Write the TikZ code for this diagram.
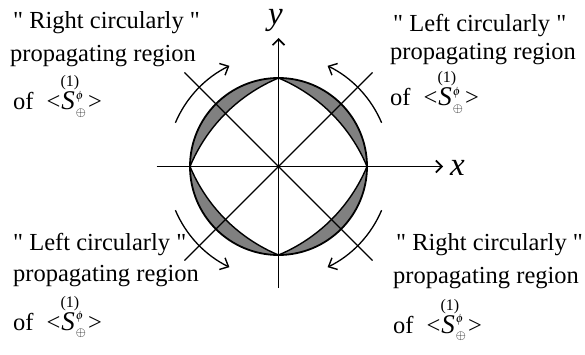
\documentclass[tikz,border=0pt]{standalone}
\usepackage{amsmath}
\usepackage{mathptmx}
\usepackage{fontspec}
\setmainfont{Liberation Serif}
\usetikzlibrary{arrows.meta}
\tikzset{
  lbl/.style={anchor=base west, inner sep=0pt, font=\fontsize{24.5}{28}\selectfont},
  axislbl/.style={anchor=base west, inner sep=0pt, font=\fontsize{33}{33}\selectfont\itshape},
  axis/.style={line width=1.6pt, -{Straight Barb[length=6pt,width=12pt,line width=1.6pt]}},
  diag/.style={line width=1.1pt},
  rot/.style={line width=1.3pt, -{Straight Barb[length=7pt,width=13pt,line width=1.4pt]}},
  crescent/.style={fill=gray},
}
\newcommand{\qq}{\textquotedbl}
\newcommand{\sterm}{of\hspace{13pt}<\kern1pt\makebox[0pt][l]{\makebox[17pt][c]{\raisebox{23pt}{\fontsize{16}{16}\selectfont(1)}}}{\fontsize{27}{28}\selectfont\textit{S}}\kern1pt\makebox[0pt][l]{\raisebox{11pt}{\fontsize{12}{12}\selectfont$\phi$}}\raisebox{-6pt}{\fontsize{13}{13}\selectfont$\oplus$}\kern2pt>}
\begin{document}
\begin{tikzpicture}[x=1pt,y=1pt]
\useasboundingbox (0,0) rectangle (585,354);
\coordinate (O) at (278.5,187.5);
% crescents
\foreach \r in {0,90,180,270}{
  \begin{scope}[shift={(O)}, rotate=\r]
    \fill[crescent] (88.5,0) arc[start angle=0,end angle=90,radius=88.5]
      arc[start angle=67.36,end angle=22.64,radius=164.5] -- cycle;
    \draw[line width=1.4pt] (88.5,0) arc[start angle=22.64,end angle=67.36,radius=164.5];
  \end{scope}
}
\draw[line width=1.8pt] (O) circle[radius=88.5];
% diagonals
\coordinate (d1) at ([shift={(45:133)}]O);
\coordinate (d2) at ([shift={(135:133)}]O);
\coordinate (d3) at ([shift={(225:133)}]O);
\coordinate (d4) at ([shift={(315:133)}]O);
\draw[diag] (d1) -- (d3);
\draw[diag] (d2) -- (d4);
% axes
\coordinate (xs) at (156.7,187.5);
\coordinate (xe) at (443,187.5);
\coordinate (ys) at (278.5,66);
\coordinate (ye) at (278.5,316);
\draw[axis] (xs) -- (xe);
\draw[axis] (ys) -- (ye);
\node[axislbl] (xl) at (450,179) {x};
\node[axislbl] (yl) at (268,329) {y};
% rotation arrows
\draw[rot] ([shift={(157:112)}]O) arc[start angle=157,end angle=116,radius=112];
\draw[rot] ([shift={(23:112)}]O) arc[start angle=23,end angle=64,radius=112];
\draw[rot] ([shift={(203:112)}]O) arc[start angle=203,end angle=244,radius=112];
\draw[rot] ([shift={(-23:112)}]O) arc[start angle=-23,end angle=-64,radius=112];
% texts
\node[lbl] (tl1) at (13,325) {\qq{} Right circularly \qq};
\node[lbl] (tl2) at (10,292) {propagating region};
\node[lbl] (tl3) at (13,244) {\sterm};
\node[lbl] (tr1) at (393,322) {\qq{} Left circularly \qq};
\node[lbl] (tr2) at (390,294) {propagating region};
\node[lbl] (tr3) at (390,248) {\sterm};
\node[lbl] (bl1) at (13,104) {\qq{} Left circularly \qq};
\node[lbl] (bl2) at (13,73) {propagating region};
\node[lbl] (bl3) at (13,24) {\sterm};
\node[lbl] (br1) at (396,104) {\qq{} Right circularly \qq};
\node[lbl] (br2) at (393,71) {propagating region};
\node[lbl] (br3) at (393,21) {\sterm};
\end{tikzpicture}
\end{document}
